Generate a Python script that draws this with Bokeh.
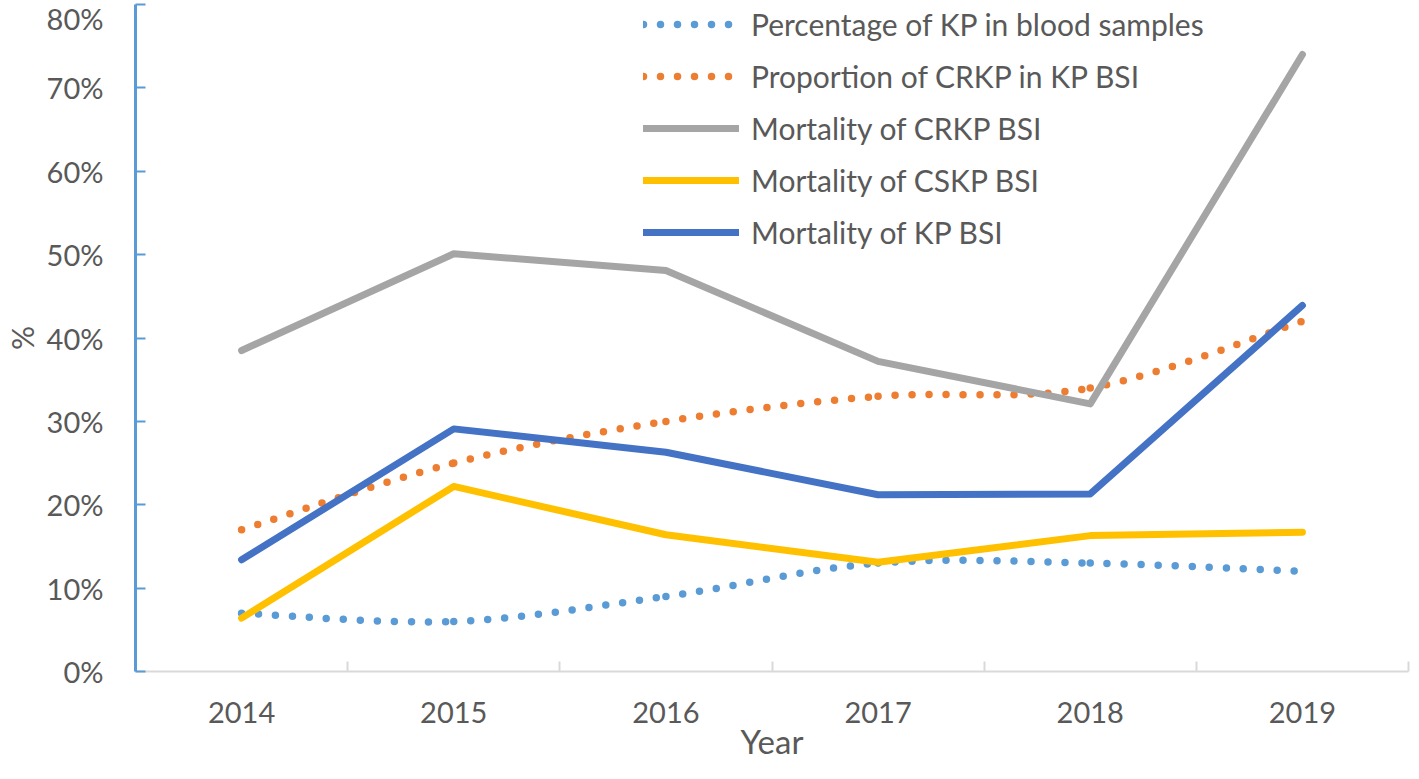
import numpy as np
from bokeh.plotting import figure
from bokeh.models import FixedTicker, PrintfTickFormatter, Legend, LegendItem, Range1d, ColumnDataSource
from bokeh.embed import file_html
from bokeh.resources import INLINE

years = ["2014", "2015", "2016", "2017", "2018", "2019"]
pct_kp_blood = [7, 6, 9, 13, 13, 12]
prop_crkp = [17, 25, 30, 33, 34, 42]
mort_crkp = [38.5, 50.1, 48.1, 37.2, 32.1, 74]
mort_cskp = [6.4, 22.2, 16.4, 13.1, 16.3, 16.7]
mort_kp = [13.4, 29.1, 26.3, 21.2, 21.3, 43.9]

# label, values, colour, dotted(smoothed) or solid(straight)
series = [
    ("Percentage of KP in blood samples", pct_kp_blood, "#5B9BD5", True),
    ("Proportion of CRKP in KP BSI", prop_crkp, "#ED7D31", True),
    ("Mortality of CRKP BSI", mort_crkp, "#A5A5A5", False),
    ("Mortality of CSKP BSI", mort_cskp, "#FFC000", False),
    ("Mortality of KP BSI", mort_kp, "#4472C4", False),
]

FONT = "Lato"
TXT = "#595959"


def smooth_source(vals):
    x = np.arange(len(vals)) + 0.5
    y = np.array(vals, dtype=float)
    n = len(y)
    d = dict(x0=[], y0=[], x1=[], y1=[], cx0=[], cy0=[], cx1=[], cy1=[])
    for i in range(n - 1):
        pv = max(i - 1, 0)
        nx = min(i + 2, n - 1)
        d["x0"].append(x[i]); d["y0"].append(y[i])
        d["x1"].append(x[i + 1]); d["y1"].append(y[i + 1])
        d["cx0"].append(x[i] + (x[i + 1] - x[pv]) / 6)
        d["cy0"].append(y[i] + (y[i + 1] - y[pv]) / 6)
        d["cx1"].append(x[i + 1] - (x[nx] - x[i]) / 6)
        d["cy1"].append(y[i + 1] - (y[nx] - y[i]) / 6)
    return ColumnDataSource(d)


p = figure(width=1410, height=763, output_backend="svg", toolbar_location=None,
           x_range=Range1d(0, len(years)), y_range=Range1d(0, 80),
           min_border_top=4, min_border_right=2, min_border_left=0, min_border_bottom=0)
p.outline_line_color = None
p.xgrid.visible = False
p.ygrid.visible = False
p.background_fill_color = "white"
p.border_fill_color = "white"

items = []
for label, vals, color, dotted in series:
    if dotted:
        src = smooth_source(vals)
        r = p.bezier(x0="x0", y0="y0", x1="x1", y1="y1", cx0="cx0", cy0="cy0",
                     cx1="cx1", cy1="cy1", source=src, line_color=color,
                     line_width=7.5, line_dash="0 17", line_cap="round")
    else:
        xs = [i + 0.5 for i in range(len(vals))]
        r = p.line(xs, vals, line_color=color, line_width=7,
                   line_cap="round", line_join="round")
    items.append(LegendItem(label=label, renderers=[r]))

legend = Legend(items=items, location=(508, 421), padding=0, margin=0,
                spacing=16, glyph_width=96, glyph_height=36, label_height=36,
                label_standoff=12, label_text_font=FONT, label_text_font_size="30px",
                label_text_color=TXT, background_fill_alpha=0, border_line_color=None)
p.add_layout(legend)

# x axis
xa = p.xaxis[0]
centers = [i + 0.5 for i in range(len(years))]
xa.ticker = FixedTicker(ticks=centers, minor_ticks=list(range(len(years) + 1)))
xa.major_label_overrides = {c: y for c, y in zip(centers, years)}
xa.major_tick_in = 0
xa.major_tick_out = 0
xa.minor_tick_in = 10
xa.minor_tick_out = 0
xa.minor_tick_line_color = "#D9D9D9"
xa.minor_tick_line_width = 2
xa.axis_line_color = "#D9D9D9"
xa.axis_line_width = 2
xa.major_label_standoff = 30
xa.major_label_text_font = FONT
xa.major_label_text_font_size = "29px"
xa.major_label_text_color = TXT
xa.axis_label = "Year"
xa.axis_label_standoff = -5
xa.axis_label_text_font = FONT
xa.axis_label_text_font_size = "33px"
xa.axis_label_text_font_style = "normal"
xa.axis_label_text_color = TXT

# y axis
ya = p.yaxis[0]
ya.ticker = FixedTicker(ticks=list(range(0, 81, 10)))
ya.formatter = PrintfTickFormatter(format="%d%%")
ya.major_tick_in = 10
ya.major_tick_out = 0
ya.minor_tick_in = 0
ya.minor_tick_out = 0
ya.major_tick_line_color = "#5B9BD5"
ya.major_tick_line_width = 2
ya.axis_line_color = "#5B9BD5"
ya.axis_line_width = 3
ya.major_label_standoff = 32
ya.major_label_text_font = FONT
ya.major_label_text_font_size = "29px"
ya.major_label_text_color = TXT
ya.axis_label = "%"
ya.axis_label_standoff = 4
ya.axis_label_text_font = FONT
ya.axis_label_text_font_size = "30px"
ya.axis_label_text_font_style = "normal"
ya.axis_label_text_color = TXT

open("out.html", "w").write(file_html(p, INLINE))
